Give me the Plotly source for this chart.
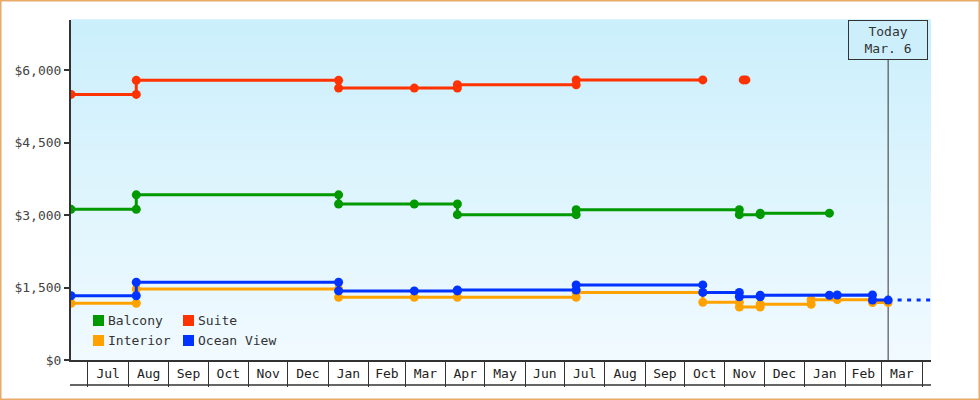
"""
Cruise cabin price history: step lines per cabin type, with a 'Today' marker.
"""

import plotly.graph_objects as go

# ---- data -------------------------------------------------------------
suite_dates = ["2013-06-18", "2013-08-07", "2013-08-07", "2014-01-09", "2014-01-09",
               "2014-03-08", "2014-04-10", "2014-04-10", "2014-07-10", "2014-07-10",
               "2014-10-15", None, "2014-11-15", "2014-11-17"]
suite_prices = [5500, 5500, 5790, 5790, 5630, 5630, 5630, 5700, 5700, 5800,
                5800, None, 5800, 5800]

balcony_dates = ["2013-06-18", "2013-08-07", "2013-08-07", "2014-01-09", "2014-01-09",
                 "2014-03-08", "2014-04-10", "2014-04-10", "2014-07-10", "2014-07-10",
                 "2014-11-12", "2014-11-12", "2014-11-28", "2014-11-28", "2015-01-20"]
balcony_prices = [3120, 3120, 3420, 3420, 3230, 3230, 3230, 3010, 3010, 3110,
                  3110, 3010, 3010, 3040, 3040]

interior_dates = ["2013-06-18", "2013-08-07", "2013-08-07", "2014-01-09", "2014-01-09",
                  "2014-03-08", "2014-04-10", "2014-07-10", "2014-07-10", "2014-10-15",
                  "2014-10-15", "2014-11-12", "2014-11-12", "2014-11-28", "2014-11-28",
                  "2015-01-06", "2015-01-06", "2015-01-26", "2015-02-22", "2015-02-22",
                  "2015-03-06"]
interior_prices = [1175, 1175, 1470, 1470, 1300, 1300, 1300, 1300, 1400, 1400,
                   1195, 1195, 1095, 1095, 1155, 1155, 1250, 1250, 1250, 1190,
                   1190]

ocean_dates = ["2013-06-18", "2013-08-07", "2013-08-07", "2014-01-09", "2014-01-09",
               "2014-03-08", "2014-04-10", "2014-04-10", "2014-07-10", "2014-07-10",
               "2014-10-15", "2014-10-15", "2014-11-12", "2014-11-12", "2014-11-28",
               "2014-11-28", "2015-01-20", "2015-01-26", "2015-02-22", "2015-02-22",
               "2015-03-06"]
ocean_prices = [1330, 1330, 1610, 1610, 1430, 1430, 1430, 1450, 1450, 1555,
                1555, 1400, 1400, 1310, 1310, 1340, 1340, 1345, 1345, 1240,
                1240]

# projection of the ocean view price after today
ocean_fc_dates = ["2015-03-06", "2015-04-08"]
ocean_fc_prices = [1240, 1240]

today = "2015-03-06"
today_label = "Today<br>Mar. 6"
x_range = ["2013-06-18", "2015-04-07 20:00"]
y_ticks = [0, 1500, 3000, 4500, 6000]

# ---- style ------------------------------------------------------------
COLORS = {
    "Balcony": "#009900",
    "Suite": "#ff3300",
    "Interior": "#ffa200",
    "Ocean View": "#0033ff",
}
_FONT = "DejaVu Sans Mono"
_INK = "#333333"
W, H = 980, 400
L, R, T, B = 71, 49, 20, 40
PW, PH = W - L - R, H - T - B


def px_x(p):
    return (p - L) / PW


def px_y(p):
    return (H - B - p) / PH


def _lerp(c0, c1, t):
    return "rgb(%d,%d,%d)" % tuple(round(a + (b - a) * t) for a, b in zip(c0, c1))


fig = go.Figure()

series = [
    ("Balcony", balcony_dates, balcony_prices),
    ("Suite", suite_dates, suite_prices),
    ("Interior", interior_dates, interior_prices),
    ("Ocean View", ocean_dates, ocean_prices),
]
for name, xs, ys in series:
    fig.add_trace(go.Scatter(
        x=xs, y=ys, name=name, mode="lines+markers",
        line={"color": COLORS[name], "width": 3},
        marker={"color": COLORS[name], "size": 9},
        connectgaps=False, showlegend=False,
    ))

fig.add_trace(go.Scatter(
    x=ocean_fc_dates, y=ocean_fc_prices, mode="lines", showlegend=False,
    line={"color": COLORS["Ocean View"], "width": 3, "dash": "4px,5.5px"},
))

# gradient background (light blue at top, almost white at bottom)
shapes = []
top_c, bot_c = (203, 239, 252), (241, 250, 255)
n = 68
for i in range(n):
    shapes.append(dict(
        type="rect", xref="paper", yref="paper", layer="below",
        x0=0, x1=1, y0=i / n, y1=(i + 1) / n + 0.002,
        fillcolor=_lerp(bot_c, top_c, (i + 0.5) / n), line={"width": 0},
    ))

# today line
shapes.append(dict(type="line", xref="x", yref="paper", layer="below",
                   x0=today, x1=today, y0=0, y1=1,
                   line={"color": _INK, "width": 1}))

# bottom edge of the month boxes
shapes.append(dict(type="line", xref="paper", yref="paper",
                   x0=px_x(70), x1=1, y0=px_y(385), y1=px_y(385),
                   line={"color": _INK, "width": 1.5}))

# outer border
shapes.append(dict(type="rect", xref="paper", yref="paper",
                   x0=px_x(0.75), x1=px_x(W - 0.75), y0=px_y(H - 0.75), y1=px_y(0.75),
                   line={"color": "#e8aa66", "width": 1.5}))

# legend, 2x2, drawn as squares + labels
annotations = []
legend_pos = {
    "Balcony": (93, 315),
    "Suite": (183, 315),
    "Interior": (93, 335),
    "Ocean View": (183, 335),
}
for name, (lx, ly) in legend_pos.items():
    shapes.append(dict(type="rect", xref="paper", yref="paper",
                       x0=px_x(lx), x1=px_x(lx + 11), y0=px_y(ly + 11), y1=px_y(ly),
                       fillcolor=COLORS[name], line={"width": 0}))
    annotations.append(dict(xref="paper", yref="paper", x=px_x(lx + 13), y=px_y(ly + 5.5),
                            xanchor="left", yanchor="middle", showarrow=False,
                            text=name, font={"family": _FONT, "size": 13, "color": _INK}))

annotations.append(dict(
    x=today, xref="x", y=1, yref="paper", xanchor="center", yanchor="top",
    text=today_label, showarrow=False, align="center",
    width=78, height=38, borderpad=0, borderwidth=1, bordercolor=_INK,
    bgcolor="#cdeffc", font={"family": _FONT, "size": 13, "color": _INK},
))

fig.update_layout(
    width=W, height=H,
    margin={"l": L, "r": R, "t": T, "b": B, "pad": 0},
    paper_bgcolor="white",
    plot_bgcolor="#e0f5fd",
    font={"family": _FONT, "size": 13, "color": _INK},
    showlegend=False,
    hovermode=False,
    shapes=shapes,
    annotations=annotations,
    xaxis={
        "type": "date", "range": x_range,
        "tick0": "2013-07-01", "dtick": "M1",
        "tickformat": "%b", "ticklabelmode": "period",
        "ticks": "outside", "ticklen": 25, "tickwidth": 1, "tickcolor": _INK,
        "showgrid": False, "zeroline": False,
        "showline": True, "linecolor": _INK, "linewidth": 2,
        "tickfont": {"family": _FONT, "size": 13, "color": "#222222"},
        "ticklabelstandoff": -25,
    },
    yaxis={
        "range": [0, 7040], "tickvals": y_ticks, "tickformat": "$,.0f",
        "ticks": "outside", "ticklen": 5, "tickwidth": 2, "tickcolor": _INK,
        "showline": True, "linecolor": _INK, "linewidth": 2,
        "showgrid": False, "zeroline": False,
        "tickfont": {"family": _FONT, "size": 13, "color": "#444444"},
    },
)

fig.write_html("out.html", config={"displayModeBar": False},
               post_script="document.body.style.margin = '0';")
